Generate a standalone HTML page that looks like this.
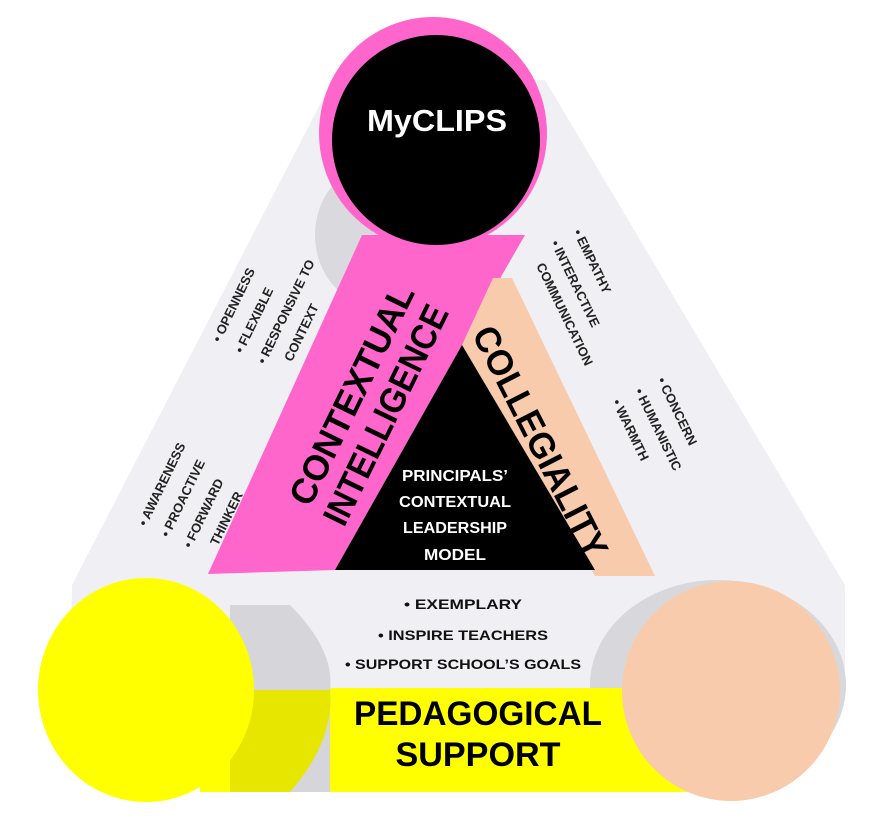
<!DOCTYPE html>
<html><head><meta charset="utf-8"><style>
html,body{margin:0;padding:0;background:#fff;}
svg{display:block;}
text{font-family:"Liberation Sans",sans-serif;font-weight:bold;}
</style></head><body>
<svg width="886" height="822" viewBox="0 0 886 822" xmlns="http://www.w3.org/2000/svg">
<polygon points="330,85 545,80 845,585 845,700 70,700 72,585" fill="#efeff4"/>
<ellipse cx="375" cy="235" rx="60" ry="70" fill="#d9d9de"/>
<polygon points="362,235 525,235 462,345 335,570 208,574" fill="#ff66cc"/>
<polygon points="462,345 493,278 512,278 655,576 595,576" fill="#f8cbad"/>
<polygon points="462,345 335,570 595,570" fill="#000"/>
<ellipse cx="433" cy="133" rx="114" ry="116" fill="#ff66cc"/>
<ellipse cx="436" cy="140" rx="104" ry="105" fill="#000"/>
<text x="437" y="131" font-size="31" fill="#fff" text-anchor="middle" textLength="140" lengthAdjust="spacingAndGlyphs">MyCLIPS</text>

<rect x="150" y="578" width="600" height="115" fill="#efeff4"/>
<ellipse cx="718" cy="685" rx="128" ry="105" fill="#d8d8dc"/>
<rect x="200" y="688" width="560" height="104" fill="#ffff00"/>
<path d="M230,605 L290,605 Q335,650 330,690 L330,792 L230,792 Z" fill="#d6d6da"/>
<path d="M230,690 L330,690 Q335,740 290,792 L230,792 Z" fill="#e6e600"/>
<ellipse cx="146" cy="690" rx="108" ry="112" fill="#ffff00"/>
<ellipse cx="731" cy="691" rx="109" ry="110" fill="#f8cbad"/>

<g fill="#fff" font-size="16" text-anchor="middle">
<text x="455" y="481" textLength="106" lengthAdjust="spacingAndGlyphs">PRINCIPALS’</text>
<text x="455" y="507" textLength="112" lengthAdjust="spacingAndGlyphs">CONTEXTUAL</text>
<text x="455" y="533" textLength="104" lengthAdjust="spacingAndGlyphs">LEADERSHIP</text>
<text x="455" y="560" textLength="62" lengthAdjust="spacingAndGlyphs">MODEL</text>
</g>
<g fill="#111" font-size="14" text-anchor="middle">
<text x="463" y="609" textLength="118" lengthAdjust="spacingAndGlyphs">•  EXEMPLARY</text>
<text x="463" y="640" textLength="170" lengthAdjust="spacingAndGlyphs">•  INSPIRE TEACHERS</text>
<text x="463" y="669" textLength="236" lengthAdjust="spacingAndGlyphs">•  SUPPORT SCHOOL’S GOALS</text>
</g>
<g fill="#000" font-size="34" text-anchor="middle">
<text x="478" y="725" textLength="248" lengthAdjust="spacingAndGlyphs">PEDAGOGICAL</text>
<text x="478" y="766" textLength="165" lengthAdjust="spacingAndGlyphs">SUPPORT</text>
</g>

<g transform="translate(352,395) rotate(-64)" fill="#000" font-size="36" text-anchor="middle">
<text x="0" y="12" textLength="240" lengthAdjust="spacingAndGlyphs">CONTEXTUAL</text>
</g>
<g transform="translate(386,415) rotate(-64)" fill="#000" font-size="36" text-anchor="middle">
<text x="0" y="12" textLength="240" lengthAdjust="spacingAndGlyphs">INTELLIGENCE</text>
</g>
<g transform="translate(540,442) rotate(63)" fill="#000" font-size="36" text-anchor="middle">
<text x="0" y="12" textLength="255" lengthAdjust="spacingAndGlyphs">COLLEGIALITY</text>
</g>

<g transform="translate(220,343) rotate(-64)" fill="#222" font-size="13">
<text x="0" y="0">•  OPENNESS</text>
<text x="0" y="25">•  FLEXIBLE</text>
<text x="0" y="50">•  RESPONSIVE TO</text>
<text x="14" y="73">CONTEXT</text>
</g>
<g transform="translate(146,527) rotate(-64)" fill="#222" font-size="13">
<text x="0" y="0">•  AWARENESS</text>
<text x="0" y="25">•  PROACTIVE</text>
<text x="0" y="50">•  FORWARD</text>
<text x="14" y="73">THINKER</text>
</g>
<g transform="translate(573,232) rotate(64)" fill="#222" font-size="13">
<text x="0" y="0">•  EMPATHY</text>
<text x="0" y="25">•  INTERACTIVE</text>
<text x="14" y="48">COMMUNICATION</text>
</g>
<g transform="translate(657,380) rotate(64)" fill="#222" font-size="13">
<text x="0" y="0">•  CONCERN</text>
<text x="0" y="25">•  HUMANISTIC</text>
<text x="0" y="50">•  WARMTH</text>
</g>
</svg>
</body></html>
